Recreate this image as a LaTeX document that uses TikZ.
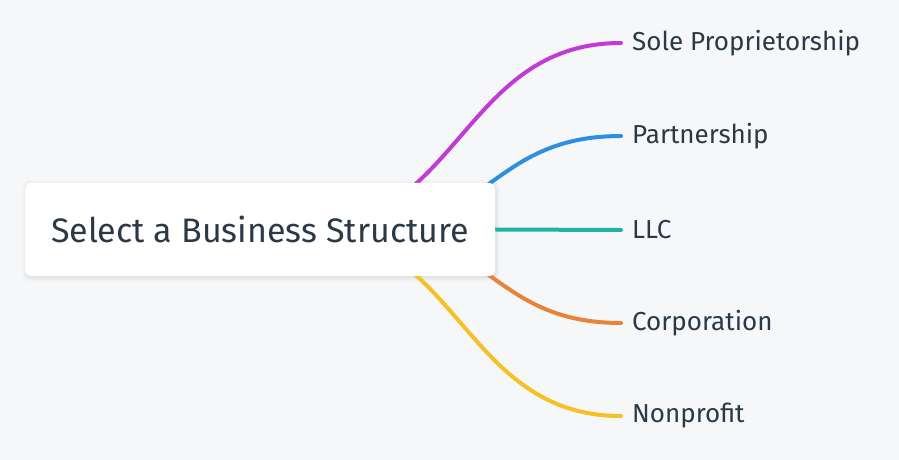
\documentclass[tikz,border=0pt]{standalone}
\usepackage{fontspec}
\setmainfont{Fira Sans}
\usepackage{xcolor}
\definecolor{bgpaper}{RGB}{246,247,249}
\definecolor{ink}{RGB}{43,57,71}
\definecolor{brpurple}{RGB}{193,59,214}
\definecolor{brblue}{RGB}{45,143,223}
\definecolor{brteal}{RGB}{30,178,160}
\definecolor{brorange}{RGB}{232,131,58}
\definecolor{bryellow}{RGB}{246,193,39}
\pgfdeclarelayer{background}
\pgfdeclarelayer{links}
\pgfsetlayers{background,links,main}

\begin{document}
\begin{tikzpicture}[x=1pt, y=1pt,
  rootnode/.style={rectangle, rounded corners=6pt, fill=white,
    minimum width=470pt, minimum height=93pt, align=center, inner sep=0pt,
    text=ink, font=\fontsize{34}{40}\selectfont},
  leafnode/.style={anchor=west, inner xsep=11pt, inner ysep=0pt,
    text=ink, font=\fontsize{26}{31}\selectfont},
  link/.style={line width=4pt, line cap=round}
]
\useasboundingbox (0,0) rectangle (899,460);
\begin{pgfonlayer}{background}
  \fill[bgpaper] (0,0) rectangle (899,460);
  % soft shadow under the centre node
  \foreach \s/\o in {4/0.015, 2.5/0.025, 1/0.04}
    \fill[black, opacity=\o, rounded corners=7pt]
      (25-\s+1,184-\s-1.5) rectangle (495+\s+1,277+\s-1.5);
\end{pgfonlayer}

% centre node and the five leaves
\node[rootnode] (root) at (260,230.5) {Select a Business Structure};
\node[leafnode] (sole) at (621,417) {Sole Proprietorship};
\node[leafnode] (partner) at (621,324) {Partnership};
\node[leafnode] (llc) at (621,230) {LLC};
\node[leafnode] (corp) at (621,137) {Corporation};
\node[leafnode] (nonprofit) at (621,44) {Nonprofit};

% hidden start points behind the centre node
\coordinate (hubouter) at ([xshift=40pt]root.center);
\coordinate (hubinner) at ([xshift=100pt]root.center);

% branches
\begin{pgfonlayer}{links}
  \draw[link, brpurple] (hubouter) .. controls +(160,0) and +(-160,0) .. (sole.west);
  \draw[link, brblue] (hubinner) .. controls +(130,0) and +(-130,0) .. (partner.west);
  \draw[link, brteal] (root.east) -- (llc.west);
  \draw[link, brorange] (hubinner) .. controls +(130,0) and +(-130,0) .. (corp.west);
  \draw[link, bryellow] (hubouter) .. controls +(160,0) and +(-160,0) .. (nonprofit.west);
\end{pgfonlayer}

\end{tikzpicture}
\end{document}
